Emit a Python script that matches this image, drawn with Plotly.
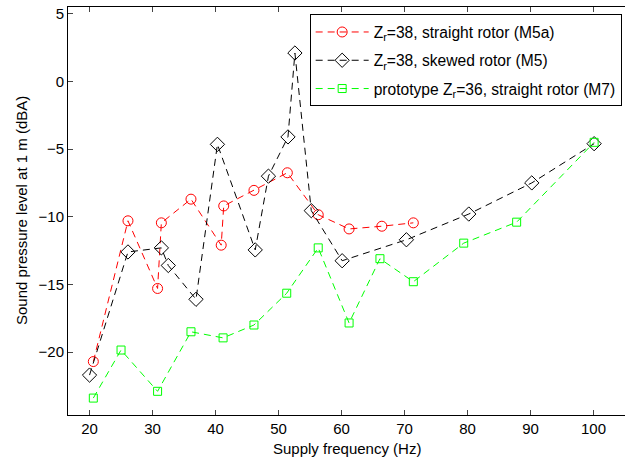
import plotly.graph_objects as go

# Z_r=38, straight rotor (M5a)
f_m5a = [20.6, 26.1, 30.8, 31.4, 36.1, 40.9, 41.3, 46.1, 51.4, 56.3, 61.2, 66.4, 71.4]
spl_m5a = [-20.7, -10.3, -15.3, -10.45, -8.7, -12.1, -9.2, -8.05, -6.75, -9.85, -10.9, -10.7, -10.45]

# Z_r=38, skewed rotor (M5)
f_m5 = [20.0, 26.1, 31.4, 32.5, 36.9, 40.3, 46.3, 48.4, 51.5, 52.6, 55.2, 60.1, 70.3, 80.2, 90.2, 100.1]
spl_m5 = [-21.7, -12.6, -12.3, -13.6, -16.1, -4.65, -12.45, -7.0, -4.1, 2.1, -9.55, -13.25, -11.7, -9.8, -7.5, -4.6]

# prototype Z_r=36, straight rotor (M7)
f_m7 = [20.6, 25.0, 30.8, 36.1, 41.2, 46.1, 51.3, 56.3, 61.2, 66.1, 71.4, 79.4, 87.8, 100.1]
spl_m7 = [-23.4, -19.85, -22.9, -18.5, -18.95, -18.0, -15.65, -12.3, -17.85, -13.1, -14.8, -11.95, -10.4, -4.5]

names = ["Z<sub>r</sub>=38, straight rotor (M5a)",
         "Z<sub>r</sub>=38, skewed rotor (M5)",
         "prototype Z<sub>r</sub>=36, straight rotor (M7)"]
x_ticks = [20, 30, 40, 50, 60, 70, 80, 90, 100]
y_ticks = [-20, -15, -10, -5, 0, 5]
x_title = "Supply frequency (Hz)"
y_title = "Sound pressure level at 1 m (dBA)"

FONT = "Liberation Sans"

fig = go.Figure()
series = [
    (f_m5a, spl_m5a, names[0], "#ff0000", "circle-open", 10),
    (f_m5, spl_m5, names[1], "#000000", "diamond-open", 11),
    (f_m7, spl_m7, names[2], "#00ff00", "square-open", 8),
]
for i, (x, y, nm, col, sym, sz) in enumerate(series):
    fig.add_trace(go.Scatter(
        x=x, y=y, name=nm, mode="lines+markers", legendgroup=f"g{i}",
        line=dict(color=col, width=1, dash="7px,5px"),
        marker=dict(symbol=sym, size=sz, color=col, line=dict(color=col, width=1)),
    ))

fig.update_layout(
    width=625, height=461,
    margin=dict(l=68, r=0, t=7, b=46, autoexpand=False),
    paper_bgcolor="white", plot_bgcolor="white",
    font=dict(family=FONT, size=15, color="black"),
    showlegend=True,
    legend=dict(
        x=0.994, y=0.982, xanchor="right", yanchor="top",
        bgcolor="white", bordercolor="black", borderwidth=1,
        font=dict(family=FONT, size=15.6, color="black"),
        itemwidth=53, tracegroupgap=5,
    ),
    xaxis=dict(
        range=[16.58, 105.0], tickvals=x_ticks, ticks="inside", ticklen=5,
        showline=True, linecolor="black", linewidth=1, mirror="ticks",
        showgrid=False, zeroline=False, automargin=False,
        tickfont=dict(size=15),
    ),
    yaxis=dict(
        range=[-24.65, 5.5], tickvals=y_ticks, ticks="inside", ticklen=5,
        showline=True, linecolor="black", linewidth=1, mirror=False,
        showgrid=False, zeroline=False, automargin=False,
        tickfont=dict(size=15),
    ),
    annotations=[
        dict(text=x_title, xref="paper", yref="paper", x=0.5, y=0,
             xanchor="center", yanchor="middle", yshift=-33, showarrow=False,
             font=dict(size=15)),
        dict(text=y_title, xref="paper", yref="paper", x=0, y=0.5,
             xanchor="center", yanchor="middle", xshift=-47, textangle=-90,
             showarrow=False, font=dict(size=15)),
    ],
)

fig.write_html("out.html", config={"displayModeBar": False},
               post_script="document.body.style.margin='0';")
